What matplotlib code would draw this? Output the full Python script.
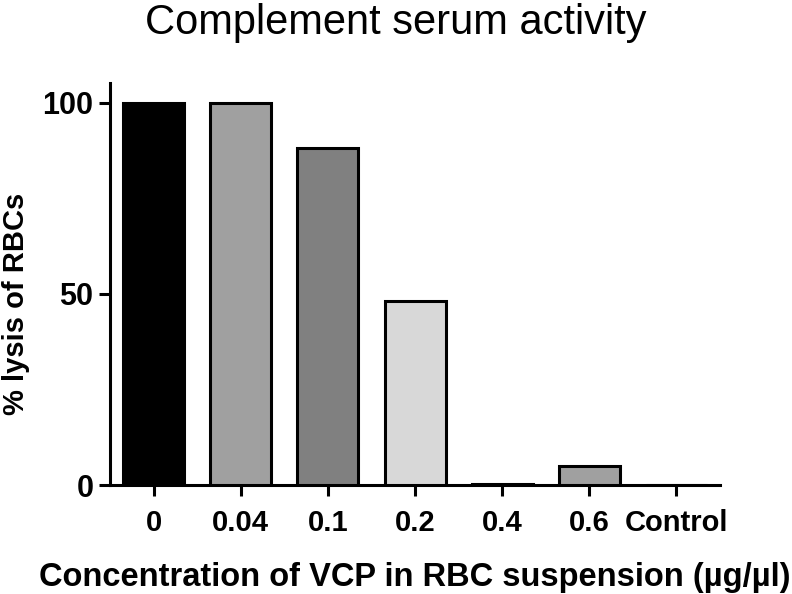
import numpy as np
import matplotlib.pyplot as plt

plt.rcParams['font.family'] = ['Liberation Sans', 'DejaVu Sans']

categories = ['0', '0.04', '0.1', '0.2', '0.4', '0.6', 'Control']
lysis = [100, 100, 88, 48, 0.3, 5, 0]
colors = ['#000000', '#a0a0a0', '#808080', '#d8d8d8', '#ffffff', '#a0a0a0', '#ffffff']

fig = plt.figure(figsize=(7.92, 5.94), dpi=100)
ax = fig.add_axes([0.139, 0.1835, 0.77, 0.676])

x = np.arange(len(categories))
ax.bar(x, lysis, width=0.7, color=colors, edgecolor='black', linewidth=2.2, zorder=3)

ax.set_xlim(-0.5, 6.5)
ax.set_ylim(0, 105)
ax.set_yticks([0, 50, 100])
ax.set_yticklabels(['0', '50', '100'], fontsize=22, fontweight='bold')
ax.set_xticks(x)
ax.set_xticklabels(categories, fontsize=21, fontweight='bold')

for s in ['top', 'right']:
    ax.spines[s].set_visible(False)
for s in ['left', 'bottom']:
    ax.spines[s].set_linewidth(2.2)
ax.tick_params(axis='both', width=2.2, length=8, pad=4)
ax.tick_params(axis='x', pad=9)

ax.set_ylabel('% lysis of RBCs', fontsize=21, fontweight='bold')
ax.yaxis.set_label_coords(-0.132, 0.45)
ax.set_xlabel('Concentration of VCP in RBC suspension (µg/µl)', fontsize=23.5,
              fontweight='bold', labelpad=18)
fig.suptitle('Complement serum activity', fontsize=30, y=0.995)

fig.savefig('out.png', dpi=100)
